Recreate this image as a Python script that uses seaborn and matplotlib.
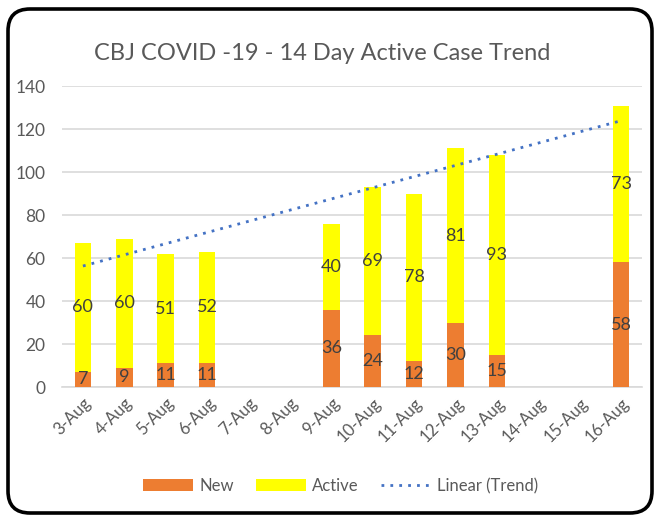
import numpy as np
import pandas as pd
import matplotlib
matplotlib.use("Agg")
import matplotlib.pyplot as plt
import seaborn as sns
from matplotlib.patches import FancyBboxPatch, Patch
from matplotlib.lines import Line2D

dates = ['3-Aug', '4-Aug', '5-Aug', '6-Aug', '7-Aug', '8-Aug', '9-Aug',
         '10-Aug', '11-Aug', '12-Aug', '13-Aug', '14-Aug', '15-Aug', '16-Aug']
new_cases = [7, 9, 11, 11, np.nan, np.nan, 36, 24, 12, 30, 15, np.nan, np.nan, 58]
active_cases = [60, 60, 51, 52, np.nan, np.nan, 40, 69, 78, 81, 93, np.nan, np.nan, 73]
yticks = [0, 20, 40, 60, 80, 100, 120, 140]
title = "CBJ COVID -19 - 14 Day Active Case Trend"

sns.set_theme(style="white")
plt.rcParams['font.family'] = ['Lato', 'DejaVu Sans']

ORANGE = '#ED7D31'
YELLOW = '#FFFF00'
BLUE = '#4472C4'
GRAY_TXT = '#595959'
LBL = '#404040'

df = pd.DataFrame({'date': dates, 'new': new_cases, 'active': active_cases})
df['total'] = df['new'] + df['active']

fig = plt.figure(figsize=(6.55, 5.16), dpi=100)
ax = fig.add_axes([0.095, 0.25, 0.885, 0.583])

sns.barplot(data=df, x='date', y='total', order=dates, color=YELLOW,
            saturation=1, width=0.4, ax=ax, linewidth=0, zorder=2)
sns.barplot(data=df, x='date', y='new', order=dates, color=ORANGE,
            saturation=1, width=0.4, ax=ax, linewidth=0, zorder=3)

# Linear trend over totals
pos = np.arange(len(dates))
mask = ~df['total'].isna().to_numpy()
xs = pos[mask] + 1
ys = df['total'].to_numpy()[mask]
slope, icpt = np.polyfit(xs, ys, 1)
tx = np.array([pos[mask][0], pos[mask][-1]])
ax.plot(tx, slope * (tx + 1) + icpt, linestyle=(0, (1, 2.2)), color=BLUE,
        linewidth=2.0, zorder=4)

# data labels
for i, (n, a) in enumerate(zip(new_cases, active_cases)):
    if not np.isnan(n):
        ax.text(i, n / 2, f"{int(n)}", ha='center', va='center', fontsize=13,
                color=LBL, zorder=5)
    if not np.isnan(a):
        ax.text(i, n + a / 2, f"{int(a)}", ha='center', va='center', fontsize=13,
                color=LBL, zorder=5)

ax.set_ylim(0, 140)
ax.set_xlim(-0.5, len(dates) - 0.5)
ax.set_yticks(yticks)
ax.set_yticklabels([str(v) for v in yticks], fontsize=12.5, color=GRAY_TXT)
ax.set_xticks(pos)
ax.set_xticklabels(dates, rotation=45, ha='right', rotation_mode='anchor',
                   fontsize=12, color=GRAY_TXT)
ax.tick_params(axis='both', length=0, pad=6)
ax.tick_params(axis='y', pad=12)
ax.set_xlabel('')
ax.set_ylabel('')
ax.yaxis.grid(True, color='#D9D9D9', linewidth=1.2, zorder=0)
ax.set_axisbelow(True)
for s in ['top', 'right', 'left']:
    ax.spines[s].set_visible(False)
ax.spines['bottom'].set_color('#D9D9D9')
ax.spines['bottom'].set_linewidth(1.2)

fig.text(0.492, 0.897, title, ha='center', va='center', fontsize=17, color=GRAY_TXT)

handles = [Patch(facecolor=ORANGE, edgecolor='none'),
           Patch(facecolor=YELLOW, edgecolor='none'),
           Line2D([0], [0], color=BLUE, linestyle=(0, (1, 2.2)), linewidth=2.0)]
leg = fig.legend(handles, ['New', 'Active', 'Linear (Trend)'], loc='center',
                 bbox_to_anchor=(0.52, 0.058), ncol=3, frameon=False,
                 fontsize=12, handlelength=3.0, handleheight=0.75,
                 columnspacing=1.3, handletextpad=0.4)
for t in leg.get_texts():
    t.set_color(GRAY_TXT)

# rounded frame
frame = FancyBboxPatch((0.08, 0.03), 6.44, 5.04,
                       boxstyle="round,pad=0,rounding_size=0.22",
                       transform=fig.dpi_scale_trans, fill=False,
                       edgecolor='black', linewidth=2.6, zorder=10)
fig.patches.append(frame)

fig.savefig('out.png', dpi=100)
